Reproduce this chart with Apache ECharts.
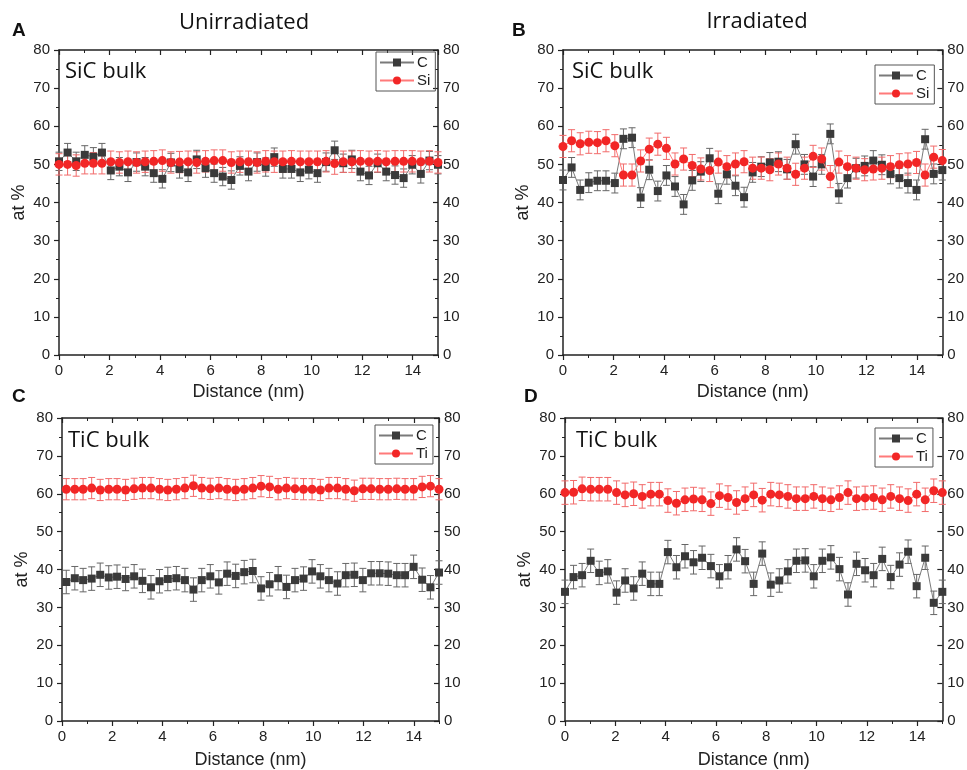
<!DOCTYPE html>
<html>
<head>
<meta charset="utf-8">
<script src="https://cdn.jsdelivr.net/npm/echarts@6/dist/echarts.min.js"></script>
<style>
  html, body { margin: 0; padding: 0; background: #fff; }
  #chart { width: 967px; height: 770px; }
</style>
</head>
<body>
<div id="chart"></div>
<script>
// Distance (nm) of each measurement point
const distAll = [0, 0.34, 0.68, 1.02, 1.36, 1.70, 2.05, 2.39, 2.73, 3.07, 3.41, 3.75, 4.09, 4.43, 4.77,
  5.11, 5.45, 5.80, 6.14, 6.48, 6.82, 7.16, 7.50, 7.84, 8.18, 8.52, 8.86, 9.20, 9.55, 9.89,
  10.23, 10.57, 10.91, 11.25, 11.59, 11.93, 12.27, 12.61, 12.95, 13.30, 13.64, 13.98, 14.32, 14.66, 15.00];
const distC = [0.17, 0.51, 0.84, 1.18, 1.52, 1.86, 2.19, 2.53, 2.87, 3.20, 3.54, 3.88, 4.21, 4.55, 4.89,
  5.23, 5.56, 5.90, 6.24, 6.57, 6.91, 7.25, 7.59, 7.92, 8.26, 8.60, 8.93, 9.27, 9.61, 9.95,
  10.28, 10.62, 10.96, 11.29, 11.63, 11.97, 12.30, 12.64, 12.98, 13.32, 13.65, 13.99, 14.33, 14.66, 15.00];

// A - SiC bulk, unirradiated
const cA = [50.8, 53.1, 50.8, 52.5, 52.0, 53.1, 48.4, 49.4, 47.9, 50.6, 49.4, 47.7, 46.2, 50.5, 48.8,
  47.9, 51.3, 49.0, 47.7, 46.8, 45.9, 49.6, 48.1, 50.6, 49.3, 51.9, 48.8, 48.8, 47.9, 48.6,
  47.7, 50.6, 53.7, 50.3, 51.3, 48.1, 47.1, 50.3, 48.1, 47.2, 46.4, 49.9, 47.5, 51.0, 49.9];
const siA = [50.0, 50.0, 49.7, 50.3, 50.3, 50.3, 50.7, 50.5, 50.7, 50.5, 50.7, 50.8, 51.0, 50.5, 50.6,
  50.7, 50.5, 50.8, 51.0, 51.0, 50.5, 50.7, 50.7, 50.5, 50.8, 50.7, 50.7, 50.8, 50.7, 50.7,
  50.7, 50.8, 50.2, 50.7, 50.7, 50.8, 50.7, 50.8, 50.7, 50.8, 50.8, 50.8, 50.7, 50.8, 50.5];

// B - SiC bulk, irradiated
const cB = [45.9, 49.2, 43.3, 45.2, 45.7, 45.7, 45.1, 56.7, 57.0, 41.3, 48.6, 43.0, 47.1, 44.2, 39.5,
  45.8, 48.1, 51.6, 42.3, 47.4, 44.4, 41.4, 47.9, 49.4, 50.5, 50.7, 48.7, 55.3, 50.0, 46.8,
  50.0, 58.0, 42.4, 46.4, 49.0, 49.6, 51.0, 49.9, 47.5, 46.4, 45.1, 43.3, 56.6, 47.5, 48.5];
const siB = [54.7, 56.2, 55.4, 55.8, 55.7, 56.2, 54.9, 47.2, 47.2, 50.9, 54.0, 55.3, 54.2, 50.1, 51.4,
  49.7, 48.8, 48.4, 50.6, 49.4, 50.1, 50.7, 49.0, 49.0, 48.6, 50.1, 49.0, 47.4, 49.0, 52.1,
  51.4, 46.8, 50.6, 49.4, 49.0, 48.6, 48.8, 49.0, 49.4, 49.9, 50.1, 50.5, 47.2, 51.9, 51.0];

// C - TiC bulk, unirradiated
const cC = [36.7, 37.7, 37.2, 37.6, 38.6, 37.9, 38.1, 37.5, 38.2, 37.0, 35.3, 36.9, 37.5, 37.7, 37.2,
  34.7, 37.2, 38.2, 36.6, 38.9, 38.3, 39.3, 39.6, 35.0, 36.1, 37.7, 35.4, 37.2, 37.6, 39.5,
  38.2, 37.2, 36.3, 38.5, 38.6, 37.2, 39.0, 39.0, 38.9, 38.5, 38.5, 40.7, 37.3, 35.3, 39.2];
const tiC = [61.2, 61.2, 61.2, 61.5, 61.0, 61.2, 61.2, 61.0, 61.3, 61.5, 61.5, 61.2, 61.0, 61.2, 61.5,
  62.1, 61.5, 61.3, 61.5, 61.2, 61.0, 61.2, 61.5, 62.0, 61.8, 61.2, 61.5, 61.3, 61.2, 61.2,
  61.0, 61.5, 61.5, 61.2, 60.8, 61.3, 61.3, 61.2, 61.2, 61.3, 61.2, 61.2, 61.8, 62.0, 61.2];

// D - TiC bulk, irradiated
const cD = [34.1, 38.0, 38.5, 42.3, 39.1, 39.5, 33.9, 37.1, 35.0, 38.9, 36.2, 36.2, 44.6, 40.6, 43.5,
  41.9, 43.1, 40.9, 38.2, 40.6, 45.3, 42.2, 36.2, 44.2, 36.0, 37.1, 39.5, 42.3, 42.4, 38.2,
  42.3, 43.2, 40.1, 33.4, 41.5, 39.8, 38.5, 42.8, 38.0, 41.3, 44.7, 35.6, 43.1, 31.2, 34.1];
const tiD = [60.3, 60.4, 61.3, 61.2, 61.2, 61.2, 60.3, 59.7, 60.0, 59.3, 59.9, 59.9, 58.2, 57.5, 58.4,
  58.6, 58.4, 57.4, 59.5, 59.0, 57.7, 58.7, 59.7, 58.3, 59.9, 59.7, 59.3, 58.7, 58.7, 59.3,
  58.7, 58.4, 59.0, 60.3, 58.7, 58.9, 59.0, 58.4, 59.3, 58.7, 58.2, 59.9, 58.4, 60.8, 60.3];

// half-width of the error bars (at %)
const errCA = 2.4, errSiA = 2.8;
const errCB = 2.6, errSiB = 2.9;
const errCC = 3.1, errTiC = 2.8;
const errCD = 3.1, errTiD = 3.1;

const FONT = '"Liberation Sans", Arial, sans-serif';
const TFONT = '"Open Sans", sans-serif';
const INK = '#222';
const GREY = '#3a3a3a';
const RED = '#f22626';

const grids = [
  { left: 59, top: 50, width: 379, height: 305 },
  { left: 563, top: 50, width: 380, height: 305 },
  { left: 62, top: 418, width: 377, height: 304 },
  { left: 565, top: 418, width: 378, height: 304 }
];

const xAxes = [];
const yAxes = [];
const series = [];

function addAxes(g) {
  const line = { show: true, onZero: false, lineStyle: { color: INK, width: 1.5 } };
  const noLine = { show: false, onZero: false };
  const base = { gridIndex: g, type: 'value', min: 0, max: 15, splitLine: { show: false } };
  // bottom, major
  xAxes.push(Object.assign({}, base, {
    position: 'bottom', interval: 2, axisLine: line,
    axisTick: { show: true, inside: false, length: 5, lineStyle: { color: INK, width: 1.2 } },
    axisLabel: { margin: 8, fontSize: 15, color: INK, fontFamily: FONT, showMaxLabel: false },
    name: 'Distance (nm)', nameLocation: 'middle', nameGap: g < 2 ? 28 : 30,
    nameTextStyle: { fontSize: 18, color: INK, fontFamily: FONT }
  }));
  // bottom, minor
  xAxes.push(Object.assign({}, base, {
    position: 'bottom', interval: 1, axisLine: noLine,
    axisTick: { show: true, inside: false, length: 3, lineStyle: { color: INK, width: 1 } },
    axisLabel: { show: false }
  }));
  // top, major
  xAxes.push(Object.assign({}, base, {
    position: 'top', interval: 2, axisLine: line,
    axisTick: { show: true, inside: true, length: 5, lineStyle: { color: INK, width: 1.2 } },
    axisLabel: { show: false }
  }));
  // top, minor
  xAxes.push(Object.assign({}, base, {
    position: 'top', interval: 1, axisLine: noLine,
    axisTick: { show: true, inside: true, length: 3, lineStyle: { color: INK, width: 1 } },
    axisLabel: { show: false }
  }));

  const ybase = { gridIndex: g, type: 'value', min: 0, max: 80, interval: 10, splitLine: { show: false } };
  yAxes.push(Object.assign({}, ybase, {
    position: 'left', axisLine: line,
    axisTick: { show: true, inside: false, length: 5, lineStyle: { color: INK, width: 1.2 } },
    minorTick: { show: true, splitNumber: 2, length: 3, lineStyle: { color: INK } },
    axisLabel: { margin: 9, fontSize: 15, color: INK, fontFamily: FONT },
    name: 'at %', nameLocation: 'middle', nameGap: 31, nameRotate: 90,
    nameTextStyle: { fontSize: 18, color: INK, fontFamily: FONT }
  }));
  yAxes.push(Object.assign({}, ybase, {
    position: 'right', axisLine: line,
    axisTick: { show: true, inside: true, length: 5, lineStyle: { color: INK, width: 1.2 } },
    minorTick: { show: true, splitNumber: 2, length: 3, lineStyle: { color: INK } },
    axisLabel: { margin: 5, fontSize: 15, color: INK, fontFamily: FONT }
  }));
}

function errSeries(g, xs, ys, err, color) {
  return {
    type: 'custom',
    name: 'err',
    xAxisIndex: 4 * g,
    yAxisIndex: 2 * g,
    silent: true,
    clip: false,
    z: 1,
    encode: { x: 0, y: [1, 2] },
    data: xs.map((x, i) => [x, ys[i] - err, ys[i] + err]),
    renderItem: function (params, api) {
      const lo = api.coord([api.value(0), api.value(1)]);
      const hi = api.coord([api.value(0), api.value(2)]);
      const w = 3.5;
      const st = { stroke: color, lineWidth: 1 };
      return {
        type: 'group',
        children: [
          { type: 'line', shape: { x1: lo[0], y1: lo[1], x2: hi[0], y2: hi[1] }, style: st },
          { type: 'line', shape: { x1: lo[0] - w, y1: lo[1], x2: lo[0] + w, y2: lo[1] }, style: st },
          { type: 'line', shape: { x1: hi[0] - w, y1: hi[1], x2: hi[0] + w, y2: hi[1] }, style: st }
        ]
      };
    }
  };
}

function addPanel(g, xs, cVals, mVals, mName, errC, errM) {
  addAxes(g);
  series.push(errSeries(g, xs, cVals, errC, '#666'));
  series.push(errSeries(g, xs, mVals, errM, '#f26a6a'));
  series.push({
    type: 'line', name: 'C', xAxisIndex: 4 * g, yAxisIndex: 2 * g, z: 2,
    data: xs.map((x, i) => [x, cVals[i]]),
    symbol: 'rect', symbolSize: 8, showAllSymbol: true, clip: false,
    itemStyle: { color: GREY },
    lineStyle: { color: '#7a7a7a', width: 1 },
    emphasis: { disabled: true }
  });
  series.push({
    type: 'line', name: mName, xAxisIndex: 4 * g, yAxisIndex: 2 * g, z: 3,
    data: xs.map((x, i) => [x, mVals[i]]),
    symbol: 'circle', symbolSize: 9, showAllSymbol: true, clip: false,
    itemStyle: { color: RED },
    lineStyle: { color: '#ff7a7a', width: 1 },
    emphasis: { disabled: true }
  });
}

addPanel(0, distAll, cA, siA, 'Si', errCA, errSiA);
addPanel(1, distAll, cB, siB, 'Si', errCB, errSiB);
addPanel(2, distC, cC, tiC, 'Ti', errCC, errTiC);
addPanel(3, distAll, cD, tiD, 'Ti', errCD, errTiD);

function legendAt(left, top, names) {
  return {
    left: left, top: top, orient: 'vertical', data: names,
    selectedMode: false,
    borderColor: '#555', borderWidth: 1, borderRadius: 0,
    padding: [3, 5, 3, 3], itemGap: 3, itemWidth: 34, itemHeight: 10,
    textStyle: { fontSize: 15, color: INK, fontFamily: FONT, padding: [0, 0, 0, -2] }
  };
}

function label(text, x, y, font, align) {
  return {
    type: 'text', x: x, y: y, silent: true,
    style: { text: text, font: font, fill: '#111', textAlign: align || 'left', textVerticalAlign: 'middle' }
  };
}

const chart = echarts.init(document.getElementById('chart'), null, { renderer: 'canvas' });
chart.setOption({
  animation: false,
  backgroundColor: '#fff',
  grid: grids,
  xAxis: xAxes,
  yAxis: yAxes,
  legend: [
    legendAt(376, 52, ['C', 'Si']),
    legendAt(875, 65, ['C', 'Si']),
    legendAt(375, 425, ['C', 'Ti']),
    legendAt(875, 428, ['C', 'Ti'])
  ],
  graphic: [
    label('Unirradiated', 244, 23, '22px ' + TFONT, 'center'),
    label('Irradiated', 757, 22, '22px ' + TFONT, 'center'),
    label('A', 12, 31, 'bold 19px ' + FONT),
    label('B', 512, 31, 'bold 19px ' + FONT),
    label('C', 12, 397, 'bold 19px ' + FONT),
    label('D', 524, 397, 'bold 19px ' + FONT),
    label('SiC bulk', 65, 72, '22px ' + TFONT),
    label('SiC bulk', 572, 72, '22px ' + TFONT),
    label('TiC bulk', 68, 441, '22px ' + TFONT),
    label('TiC bulk', 576, 441, '22px ' + TFONT)
  ],
  series: series
});
</script>
</body>
</html>
